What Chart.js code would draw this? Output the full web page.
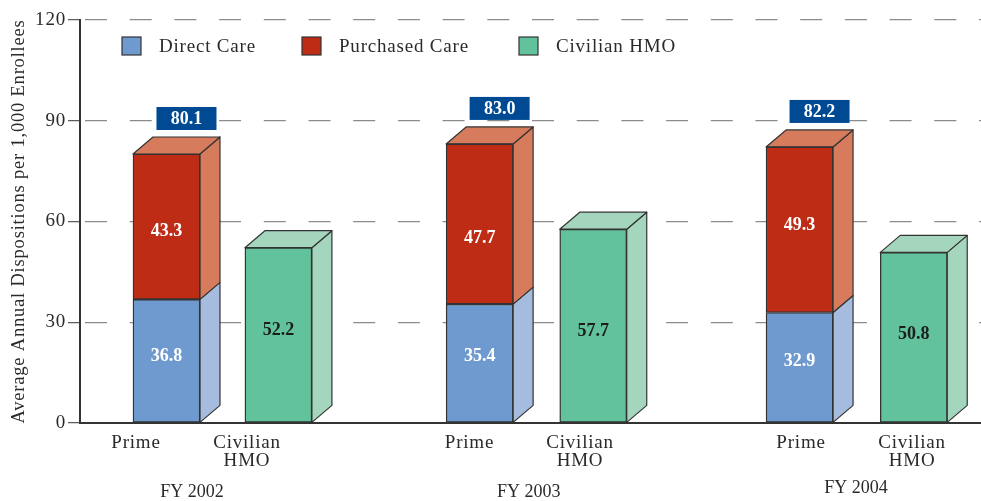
<!DOCTYPE html>
<html>
<head>
<meta charset="utf-8">
<title>Average Annual Dispositions</title>
<script src="https://cdn.jsdelivr.net/npm/chart.js@4"></script>
<style>
    html, body { margin: 0; padding: 0; background: #fff; }
    canvas { display: block; }
</style>
</head>
<body>
<canvas id="dispositionsChart" width="981" height="501"></canvas>
<script>
const directCare = [36.8, 35.4, 32.9];
const purchasedCare = [43.3, 47.7, 49.3];
const civilianHmo = [52.2, 57.7, 50.8];
const primeTotals = [80.1, 83.0, 82.2];
const fiscalYears = ['FY 2002', 'FY 2003', 'FY 2004'];
const yTicks = [0, 30, 60, 90, 120];
const xLabels = ['Prime', ['Civilian', 'HMO'], 'Prime', ['Civilian', 'HMO'], 'Prime', ['Civilian', 'HMO']];

// where things sit along the x axis (1 unit = one bar pair)
const primeSlots = [0.765, 3.535, 6.365];
const hmoSlots = [1.755, 4.54, 7.375];
const xLabelSlots = [0.495, 1.477, 3.445, 4.423, 6.378, 7.36];
const fySlots = [0.99, 3.97, 6.864];
const fyLabelY = [492, 492, 488];

// hand adjustments so the value labels sit where the original has them
const directNudge = [-5, -7, -6];
const purchasedNudge = [5, 14, -4];
const hmoNudge = [-5, 6, -3];

const SERIF = '"Liberation Serif", serif';
const INK = '#2a2a2a';
const EDGE = '#333333';
const DEPTH_X = 20;
const DEPTH_Y = -17;
const SPACING = '0.8px';

const colors = {
    direct: { front: '#6f9ad0', side: '#a6bcdf' },
    purchased: { front: '#bf2c16', side: '#d67b5c' },
    hmo: { front: '#61c29b', side: '#a3d6bd' }
};

function toPoints(slots, values) {
    return slots.map((slot, i) => ({ x: slot, y: values[i] }));
}

function polygon(ctx, points, fill) {
    ctx.beginPath();
    points.forEach((p, i) => i ? ctx.lineTo(p[0], p[1]) : ctx.moveTo(p[0], p[1]));
    ctx.closePath();
    ctx.fillStyle = fill;
    ctx.fill();
    ctx.stroke();
}

const bars3d = {
    id: 'bars3d',
    beforeDraw(chart) {
        chart.ctx.letterSpacing = SPACING;
    },
    beforeDatasetsDraw(chart) {
        const ctx = chart.ctx;
        ctx.save();
        ctx.strokeStyle = EDGE;
        ctx.lineWidth = 1.2;
        ctx.lineJoin = 'round';
        chart.data.datasets.forEach((dataset, d) => {
            chart.getDatasetMeta(d).data.forEach(bar => {
                const right = bar.x + bar.width / 2;
                const left = bar.x - bar.width / 2;
                polygon(ctx, [
                    [right, bar.y], [right + DEPTH_X, bar.y + DEPTH_Y],
                    [right + DEPTH_X, bar.base + DEPTH_Y], [right, bar.base]
                ], dataset.sideColor);
                if (dataset.hasTopFace) {
                    polygon(ctx, [
                        [left, bar.y], [left + DEPTH_X, bar.y + DEPTH_Y],
                        [right + DEPTH_X, bar.y + DEPTH_Y], [right, bar.y]
                    ], dataset.sideColor);
                }
            });
        });
        ctx.restore();
    },
    afterDatasetsDraw(chart) {
        const ctx = chart.ctx;
        ctx.save();
        ctx.textAlign = 'center';
        ctx.textBaseline = 'middle';
        ctx.letterSpacing = '0px';
        ctx.font = 'bold 18px ' + SERIF;

        // values inside the bars
        chart.data.datasets.forEach((dataset, d) => {
            chart.getDatasetMeta(d).data.forEach((bar, i) => {
                ctx.fillStyle = dataset.valueColor;
                ctx.fillText(dataset.values[i].toFixed(1), bar.x, (bar.y + bar.base) / 2 + dataset.nudge[i]);
            });
        });

        // blue total boxes over the prime bars
        chart.getDatasetMeta(1).data.forEach((bar, i) => {
            const cx = bar.x + 20;
            const bottom = bar.y + DEPTH_Y - 7;
            ctx.fillStyle = '#004a93';
            ctx.fillRect(cx - 30, bottom - 23, 60, 23);
            ctx.fillStyle = '#ffffff';
            ctx.fillText(primeTotals[i].toFixed(1), cx, bottom - 11);
        });
        ctx.restore();
    },
    afterDraw(chart) {
        const ctx = chart.ctx;
        ctx.save();
        ctx.fillStyle = INK;

        // fiscal year captions
        ctx.textAlign = 'center';
        ctx.textBaseline = 'middle';
        ctx.letterSpacing = '0px';
        ctx.font = '18px ' + SERIF;
        fiscalYears.forEach((fy, i) => {
            ctx.fillText(fy, chart.scales.x.getPixelForValue(fySlots[i]), fyLabelY[i]);
        });

        // legend
        ctx.textAlign = 'left';
        ctx.textBaseline = 'alphabetic';
        ctx.letterSpacing = SPACING;
        ctx.font = '19px ' + SERIF;
        ctx.lineWidth = 1.2;
        ctx.strokeStyle = EDGE;
        const legendX = [121, 301, 518];
        chart.data.datasets.forEach((dataset, d) => {
            ctx.fillStyle = dataset.backgroundColor;
            ctx.fillRect(legendX[d] + 1, 37, 19, 18);
            ctx.strokeRect(legendX[d] + 1, 37, 19, 18);
            ctx.fillStyle = INK;
            ctx.fillText(dataset.label, legendX[d] + 38, 52);
        });
        ctx.restore();
    }
};

new Chart(document.getElementById('dispositionsChart'), {
    type: 'bar',
    data: {
        datasets: [
            {
                label: 'Direct Care',
                data: toPoints(primeSlots, directCare),
                values: directCare,
                nudge: directNudge,
                backgroundColor: colors.direct.front,
                sideColor: colors.direct.side,
                valueColor: '#ffffff',
                hasTopFace: false,
                stack: 'all'
            },
            {
                label: 'Purchased Care',
                data: toPoints(primeSlots, purchasedCare),
                values: purchasedCare,
                nudge: purchasedNudge,
                backgroundColor: colors.purchased.front,
                sideColor: colors.purchased.side,
                valueColor: '#ffffff',
                hasTopFace: true,
                stack: 'all'
            },
            {
                label: 'Civilian HMO',
                data: toPoints(hmoSlots, civilianHmo),
                values: civilianHmo,
                nudge: hmoNudge,
                backgroundColor: colors.hmo.front,
                sideColor: colors.hmo.side,
                valueColor: '#1d1d1d',
                hasTopFace: true,
                stack: 'all'
            }
        ]
    },
    options: {
        responsive: false,
        animation: false,
        layout: { padding: { top: 20, left: 0, right: 0, bottom: 0 } },
        datasets: {
            bar: {
                barThickness: 67,
                borderColor: EDGE,
                borderWidth: 1.4,
                borderSkipped: false
            }
        },
        plugins: {
            legend: { display: false },
            tooltip: { enabled: false }
        },
        scales: {
            x: {
                type: 'linear',
                offset: false,
                stacked: true,
                min: 0,
                max: 7.97,
                afterFit(scale) { scale.height = 78; },
                afterBuildTicks(scale) {
                    scale.ticks = xLabelSlots.map(value => ({ value }));
                },
                grid: { display: false },
                border: { display: true, color: EDGE, width: 2 },
                ticks: {
                    autoSkip: false,
                    maxRotation: 0,
                    padding: 3,
                    color: INK,
                    font: { family: SERIF, size: 19, lineHeight: 0.95 },
                    callback: (value, index) => xLabels[index]
                }
            },
            y: {
                stacked: true,
                min: 0,
                max: 120,
                afterFit(scale) { scale.width = 80; },
                afterBuildTicks(scale) {
                    scale.ticks = yTicks.map(value => ({ value }));
                },
                title: {
                    display: true,
                    text: 'Average Annual Dispositions per 1,000 Enrollees',
                    color: INK,
                    font: { family: SERIF, size: 18.5 },
                    padding: { top: 8, bottom: 0 }
                },
                border: { display: true, color: EDGE, width: 2, dash: [22, 22.7], dashOffset: 40.7 },
                grid: {
                    color: '#8c8c8c',
                    lineWidth: 1.3,
                    tickLength: 12,
                    tickColor: '#555555',
                    tickWidth: 1.2,
                    tickBorderDash: []
                },
                ticks: {
                    padding: 2,
                    color: INK,
                    font: { family: SERIF, size: 19 }
                }
            }
        }
    },
    plugins: [bars3d]
});
</script>
</body>
</html>
